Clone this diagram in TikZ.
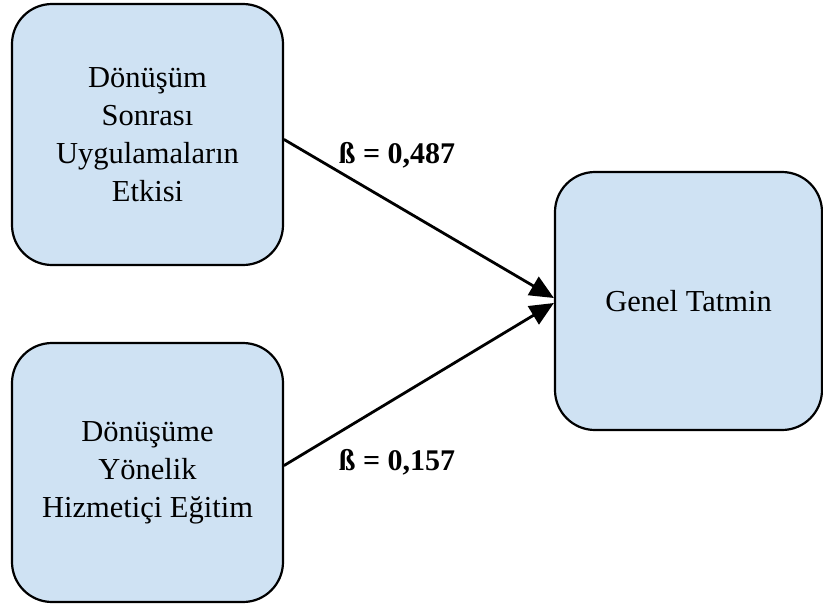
\documentclass[tikz,border=0pt]{standalone}
\usepackage{fontspec}
\setmainfont{Liberation Serif}
\usetikzlibrary{arrows.meta}
\definecolor{boxblue}{HTML}{CFE2F3}
\tikzset{
  factor/.style={draw=black,line width=2.2pt,fill=boxblue,rounded corners=40pt,
    align=center,inner sep=0pt,font=\fontsize{30.5}{38}\selectfont},
  link/.style={line width=2.8pt,-{Triangle[length=24pt,width=21pt]}},
  coef/.style={font=\fontsize{30}{35}\selectfont\bfseries}
}

\begin{document}
\begin{tikzpicture}[x=1pt,y=-1pt,line cap=round,line join=round]
  \useasboundingbox (0,0) rectangle (823,614);
  \node[factor,minimum width=271pt,minimum height=261pt] (sonrasi) at (147.5,134.5)
    {Dönüşüm\\Sonrası\\Uygulamaların\\Etkisi};
  \node[factor,minimum width=271pt,minimum height=259pt] (egitim) at (147.5,472.5)
    {Dönüşüme\\Yönelik\\Hizmetiçi Eğitim};
  \node[factor,minimum width=267pt,minimum height=258pt] (tatmin) at (688.5,301)
    {Genel Tatmin};
  \draw[link] ([yshift=-5pt]sonrasi.east) -- ([yshift=3pt]tatmin.west);
  \draw[link] ([yshift=7pt]egitim.east) -- ([yshift=-2pt]tatmin.west);
  \node[coef] (b1) at (397,155) {ß = 0,487};
  \node[coef] (b2) at (397,462) {ß = 0,157};
\end{tikzpicture}
\end{document}
